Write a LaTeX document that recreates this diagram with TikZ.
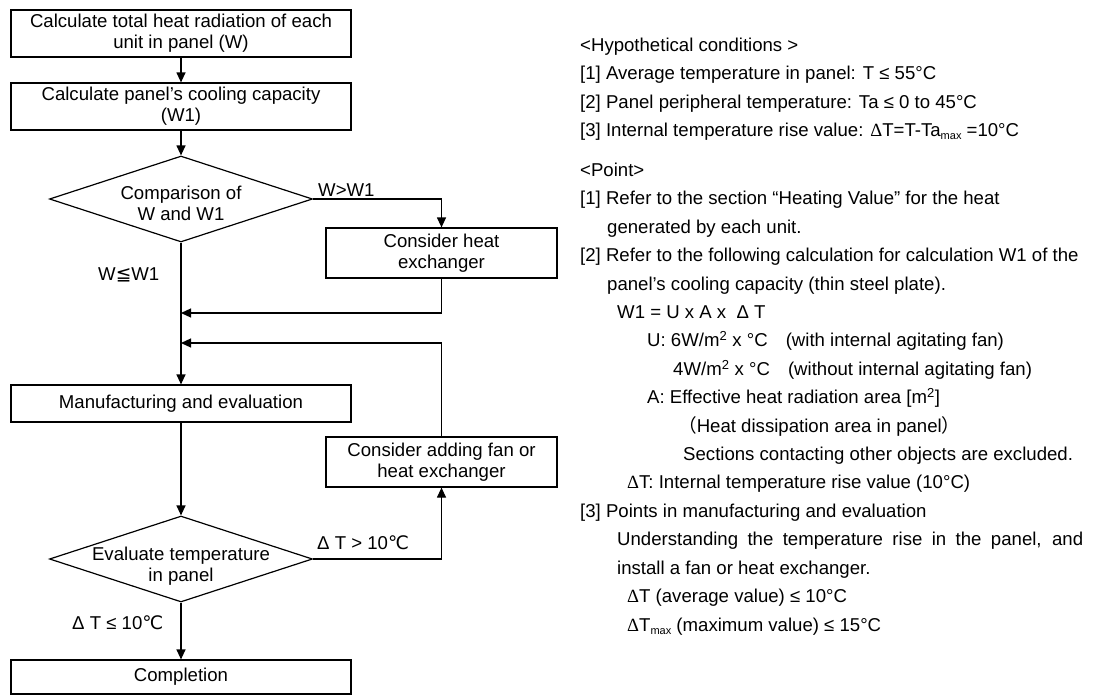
\documentclass[tikz,border=0pt]{standalone}
\usepackage{fontspec}
\setmainfont{Liberation Sans}
\newfontfamily\symfont{DejaVu Sans}
\newfontfamily\thinfont{Liberation Serif}
\newfontfamily\cjkfont{Noto Sans CJK SC}
\usepackage{tikz}
\usetikzlibrary{arrows.meta,positioning,shapes.geometric}
\newcommand{\degC}{{\symfont ℃}}
\newcommand{\dlt}{{\thinfont Δ}}
\newcommand{\maxsub}{\raisebox{-3pt}{\fontsize{11}{11}\selectfont max}}
\tikzset{
  >={Triangle[length=10pt,width=9pt]},
  stepbox/.style={rectangle,draw,line width=1.2pt,minimum width=340pt,align=center,inner sep=0pt},
  sidebox/.style={rectangle,draw,line width=1.2pt,minimum width=231pt,minimum height=50pt,align=center,inner sep=0pt},
  decision/.style={diamond,draw,line width=1.2pt,minimum width=263pt,minimum height=86pt,inner sep=0pt},
  flow/.style={->,line width=1.2pt},
  cond/.style={anchor=base west,inner sep=0pt},
  note/.style={anchor=base west,inner sep=0pt}
}

\begin{document}
\begin{tikzpicture}[x=1pt,y=-1pt,font=\fontsize{18.6}{21}\selectfont]
  \useasboundingbox (0,0) rectangle (1105,696);

  % flow chart
  \node[stepbox,minimum height=47pt] (heat) at (181,33.5) {Calculate total heat radiation of each\\unit in panel (W)};
  \node[stepbox,minimum height=47pt] (cool) at (181,106.5) {Calculate panel’s cooling capacity\\(W1)};
  \node[decision] (cmp) at (181,199) {};
  \node[align=center] (cmptext) at (181,203) {Comparison of\\W and W1};
  \node[sidebox] (hex) at (441.5,253) {Consider heat\\exchanger};
  \node[stepbox,minimum height=37pt] (make) at (181,403.5) {Manufacturing and evaluation};
  \node[sidebox] (fan) at (441.5,462) {Consider adding fan or\\heat exchanger};
  \node[decision] (eval) at (181,559) {};
  \node[align=center] (evaltext) at (181,566) {Evaluate temperature\\in panel};
  \node[stepbox,minimum height=34pt] (done) at (181,677) {Completion};

  \coordinate (join1) at (181,313);
  \coordinate (join2) at (181,343);

  \draw[flow] (heat) -- (cool);
  \draw[flow] (cool) -- (cmp);
  \draw[flow] (cmp.east) -| (hex.north);
  \draw[flow] (hex.south) |- (join1);
  \draw[flow] (fan.north) |- (join2);
  \draw[flow] (cmp.south) -- (make.north);
  \draw[flow] (make) -- (eval);
  \draw[flow] (eval.east) -| (fan.south);
  \draw[flow] (eval) -- (done);

  \node[cond] (wgt) at (318,196) {W>W1};
  \node[cond] (wle) at (98,280) {W{\symfont ≦}W1};
  \node[cond] (dthot) at (317,549) {Δ T > 10\degC};
  \node[cond] (dtok) at (72,629) {Δ T ≤ 10\degC};

  % notes on the right
  \node[note] (hyphead) at (580,51.5) {<Hypothetical conditions >};
  \node[note] (hyp1) at (580,79.5) {[1] Average temperature in panel: T ≤ 55°C};
  \node[note] (hyp2) at (580,108.5) {[2] Panel peripheral temperature: Ta ≤ 0 to 45°C};
  \node[note] (hyp3) at (580,136.5) {[3] Internal temperature rise value: \dlt T=T-Ta\maxsub{} =10°C};
  \node[note] (pointhead) at (580,176.5) {<Point>};
  \node[note] (pt1a) at (580,204.5) {[1] Refer to the section “Heating Value” for the heat};
  \node[note] (pt1b) at (607,233.5) {generated by each unit.};
  \node[note] (pt2a) at (580,261.5) {[2] Refer to the following calculation for calculation W1 of the};
  \node[note] (pt2b) at (607,290.5) {panel’s cooling capacity (thin steel plate).};
  \node[note] (formula) at (617,318.5) {W1 = U x A x \ Δ T};
  \node[note] (uwith) at (647,346.5) {U: 6W/m\textsuperscript{2} x °C\hspace{18pt}(with internal agitating fan)};
  \node[note] (uwithout) at (673,375.5) {4W/m\textsuperscript{2} x °C\hspace{18pt}(without internal agitating fan)};
  \node[note] (area) at (647,403.5) {A: Effective heat radiation area [m\textsuperscript{2}]};
  \node[note] (areanote) at (678,432.5) {{\cjkfont （}Heat dissipation area in panel{\cjkfont ）}};
  \node[note] (areaexcl) at (683,460.5) {Sections contacting other objects are excluded.};
  \node[note] (dtdef) at (627,488.5) {\dlt T: Internal temperature rise value (10°C)};
  \node[note] (pt3a) at (580,517.5) {[3] Points in manufacturing and evaluation};
  \node[note] (pt3b) at (617,545.5) {\makebox[466pt][s]{Understanding the temperature rise in the panel, and}};
  \node[note] (pt3c) at (617,574.5) {install a fan or heat exchanger.};
  \node[note] (dtavg) at (627,602.5) {\dlt T (average value) ≤ 10°C};
  \node[note] (dtmax) at (627,631.5) {\dlt T\maxsub{} (maximum value) ≤ 15°C};
\end{tikzpicture}
\end{document}
